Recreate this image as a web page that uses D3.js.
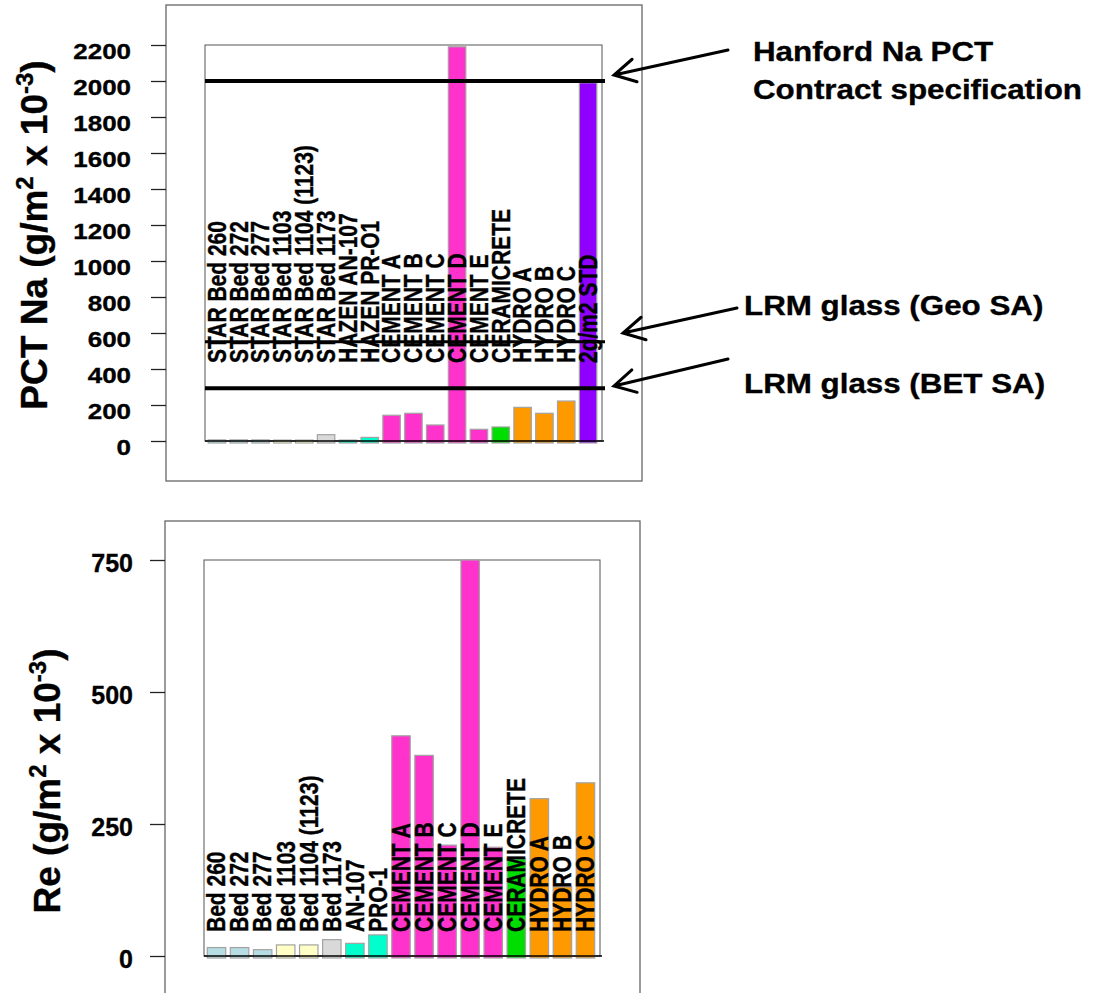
<!DOCTYPE html>
<html>
<head>
<meta charset="utf-8">
<script src="https://cdn.jsdelivr.net/npm/d3@7/dist/d3.min.js"></script>
<style>
  body { margin: 0; background: #fff; }
  text { font-family: Arial, "Liberation Sans", sans-serif; font-weight: bold; fill: #000;
         stroke: #000; stroke-width: 0.35px; }
</style>
</head>
<body>
<svg width="1104" height="993"></svg>
<script>
// --- top panel: PCT Na ---
var naLabels = ['STAR Bed 260', 'STAR Bed 272', 'STAR Bed 277', 'STAR Bed 1103', 'STAR Bed 1104 (1123)',
    'STAR Bed 1173', 'HAZEN AN-107', 'HAZEN PR-O1', 'CEMENT A', 'CEMENT B', 'CEMENT C', 'CEMENT D',
    'CEMENT E', 'CERAMICRETE', 'HYDRO A', 'HYDRO B', 'HYDRO C', '2g/m2 STD']
var naValues = [6, 6, 6, 5, 5, 35, 5, 20, 143, 154, 89, 2190, 65, 78, 187, 154, 222, 1990]
var naTicks = [0, 200, 400, 600, 800, 1000, 1200, 1400, 1600, 1800, 2000, 2200]
var naRefLines = [2000, 552, 293]
var naRefNotes = [['Hanford Na PCT', 'Contract specification'], ['LRM glass (Geo SA)'], ['LRM glass (BET SA)']]

// --- bottom panel: Re ---
var reLabels = ['Bed 260', 'Bed 272', 'Bed 277', 'Bed 1103', 'Bed 1104 (1123)', 'Bed 1173', 'AN-107', 'PRO-1',
    'CEMENT A', 'CEMENT B', 'CEMENT C', 'CEMENT D', 'CEMENT E', 'CERAMICRETE', 'HYDRO A', 'HYDRO B', 'HYDRO C']
var reValues = [16, 16, 12, 21, 21, 31, 24, 40, 417, 380, 210, 750, 206, 184, 298, 131, 328]
var reTicks = [0, 250, 500, 750]

// colours by bar
var blue = '#b5dde3', yellow = '#ffffc6', grey = '#d9d9d9', teal = '#00ffcc',
    pink = '#ff33cc', green = '#00dd00', orange = '#ff9900', purple = '#9000ff'
var naColors = [blue, blue, blue, yellow, yellow, grey, teal, teal, pink, pink, pink, pink, pink, green, orange, orange, orange, purple]
var reColors = [blue, blue, blue, yellow, yellow, grey, teal, teal, pink, pink, pink, pink, pink, green, orange, orange, orange]

var svg = d3.select('svg')

function drawPanel(p) {
    var y = d3.scaleLinear().domain(p.domain).range(p.yRange)
    var x = d3.scaleBand().domain(p.labels).range(p.xRange).paddingInner(0.2).paddingOuter(0.1)
    var g = svg.append('g')

    // outer frame + inner plot frame
    g.append('rect').attr('x', p.outer[0]).attr('y', p.outer[1]).attr('width', p.outer[2]).attr('height', p.outer[3])
        .attr('fill', 'none').attr('stroke', '#666').attr('stroke-width', 1.3)
    g.append('rect').attr('x', p.inner[0]).attr('y', y.range()[1]).attr('width', p.inner[1])
        .attr('height', y.range()[0] - y.range()[1])
        .attr('fill', 'none').attr('stroke', '#555').attr('stroke-width', 1)

    // y axis on the outer frame
    var ax = g.append('g')
        .attr('transform', 'translate(' + p.outer[0] + ',0)')
        .call(d3.axisLeft(y).tickValues(p.ticks).tickSize(15).tickFormat(d3.format('d')))
    ax.select('.domain').remove()
    ax.selectAll('line').attr('stroke', '#222').attr('stroke-width', 1.3)
    ax.selectAll('text')
        .attr('x', null)
        .attr('dy', '0.32em')
        .attr('font-size', p.tickSize)
        .attr('transform', 'translate(' + p.tickDx + ',' + p.tickDy + ') scale(' + p.tickSx + ',1)')

    // bars
    g.selectAll('rect.bar')
        .data(p.values)
        .enter()
        .append('rect')
        .attr('class', 'bar')
        .attr('x', function(d, i) { return x(p.labels[i]) })
        .attr('y', function(d) { return y(d) })
        .attr('width', x.bandwidth())
        .attr('height', function(d) { return y(0) - y(d) + 2 })
        .attr('fill', function(d, i) { return p.colors[i] })
        .attr('stroke', '#a3a3a3')
        .attr('stroke-width', 1.2)

    // baseline
    g.append('line')
        .attr('x1', p.inner[0]).attr('x2', p.inner[0] + p.inner[1] + 2)
        .attr('y1', y(0)).attr('y2', y(0))
        .attr('stroke', '#000').attr('stroke-width', 1.5)

    // rotated category labels
    g.selectAll('text.cat')
        .data(p.labels)
        .enter()
        .append('text')
        .attr('class', 'cat')
        .attr('transform', function(d) {
            return 'translate(' + (x(d) + x.bandwidth() / 2) + ',' + p.labelY + ') scale(1.2,1) rotate(-90)'
        })
        .attr('dy', '0.35em')
        .attr('font-size', 21)
        .text(function(d) { return d })

    // y axis title with superscripts
    var t = g.append('text')
        .attr('transform', 'translate(' + p.titlePos[0] + ',' + p.titlePos[1] + ') rotate(-90)')
        .attr('text-anchor', 'middle')
        .attr('font-size', 37)
    t.append('tspan').text(p.title)
    t.append('tspan').attr('dy', -14).attr('font-size', 24).text('2')
    t.append('tspan').attr('dy', 14).text(' x 10')
    t.append('tspan').attr('dy', -14).attr('font-size', 24).text('-3')
    t.append('tspan').attr('dy', 14).text(')')

    return { x: x, y: y, g: g }
}

var naPanel = drawPanel({
    labels: naLabels, values: naValues, colors: naColors, ticks: naTicks,
    domain: [0, 2200], yRange: [441, 45], xRange: [206, 599],
    outer: [166, 5, 476, 476], inner: [205, 397],
    tickSize: 22, tickDx: -35, tickDy: 6, tickSx: 1.18,
    labelY: 363, title: 'PCT Na (g/m', titlePos: [47, 235]
})

var rePanel = drawPanel({
    labels: reLabels, values: reValues, colors: reColors, ticks: reTicks,
    domain: [0, 750], yRange: [956, 560], xRange: [205, 597],
    outer: [165, 521, 475, 520], inner: [204, 396],
    tickSize: 25, tickDx: -32, tickDy: 3, tickSx: 1.0,
    labelY: 932, title: 'Re (g/m', titlePos: [60, 781]
})

// reference lines on the Na panel
var refWidths = [4, 3, 4]
naPanel.g.selectAll('line.ref')
    .data(naRefLines)
    .enter()
    .append('line')
    .attr('class', 'ref')
    .attr('x1', 205).attr('x2', 605)
    .attr('y1', function(d) { return naPanel.y(d) })
    .attr('y2', function(d) { return naPanel.y(d) })
    .attr('stroke', '#000')
    .attr('stroke-width', function(d, i) { return refWidths[i] })

// arrows + notes
var notes = [
    { from: [728, 50], to: [614, 75], tx: 753, ty: 61 },
    { from: [737, 308], to: [623, 333], tx: 744, ty: 315 },
    { from: [728, 359], to: [614, 386], tx: 744, ty: 393 }
]

notes.forEach(function(n, i) {
    var ang = Math.atan2(n.from[1] - n.to[1], n.from[0] - n.to[0])
    var len = 24, spread = 0.5
    var a1 = [n.to[0] + len * Math.cos(ang - spread), n.to[1] + len * Math.sin(ang - spread)]
    var a2 = [n.to[0] + len * Math.cos(ang + spread), n.to[1] + len * Math.sin(ang + spread)]
    svg.append('path')
        .attr('d', 'M' + n.from + 'L' + n.to + 'M' + a1 + 'L' + n.to + 'L' + a2)
        .attr('fill', 'none').attr('stroke', '#000').attr('stroke-width', 3)
        .attr('stroke-linecap', 'round')

    naRefNotes[i].forEach(function(line, j) {
        svg.append('text')
            .attr('transform', 'translate(' + n.tx + ',' + (n.ty + j * 38) + ') scale(1.1,1)')
            .attr('font-size', 28.5)
            .text(line)
    })
})
</script>
</body>
</html>
